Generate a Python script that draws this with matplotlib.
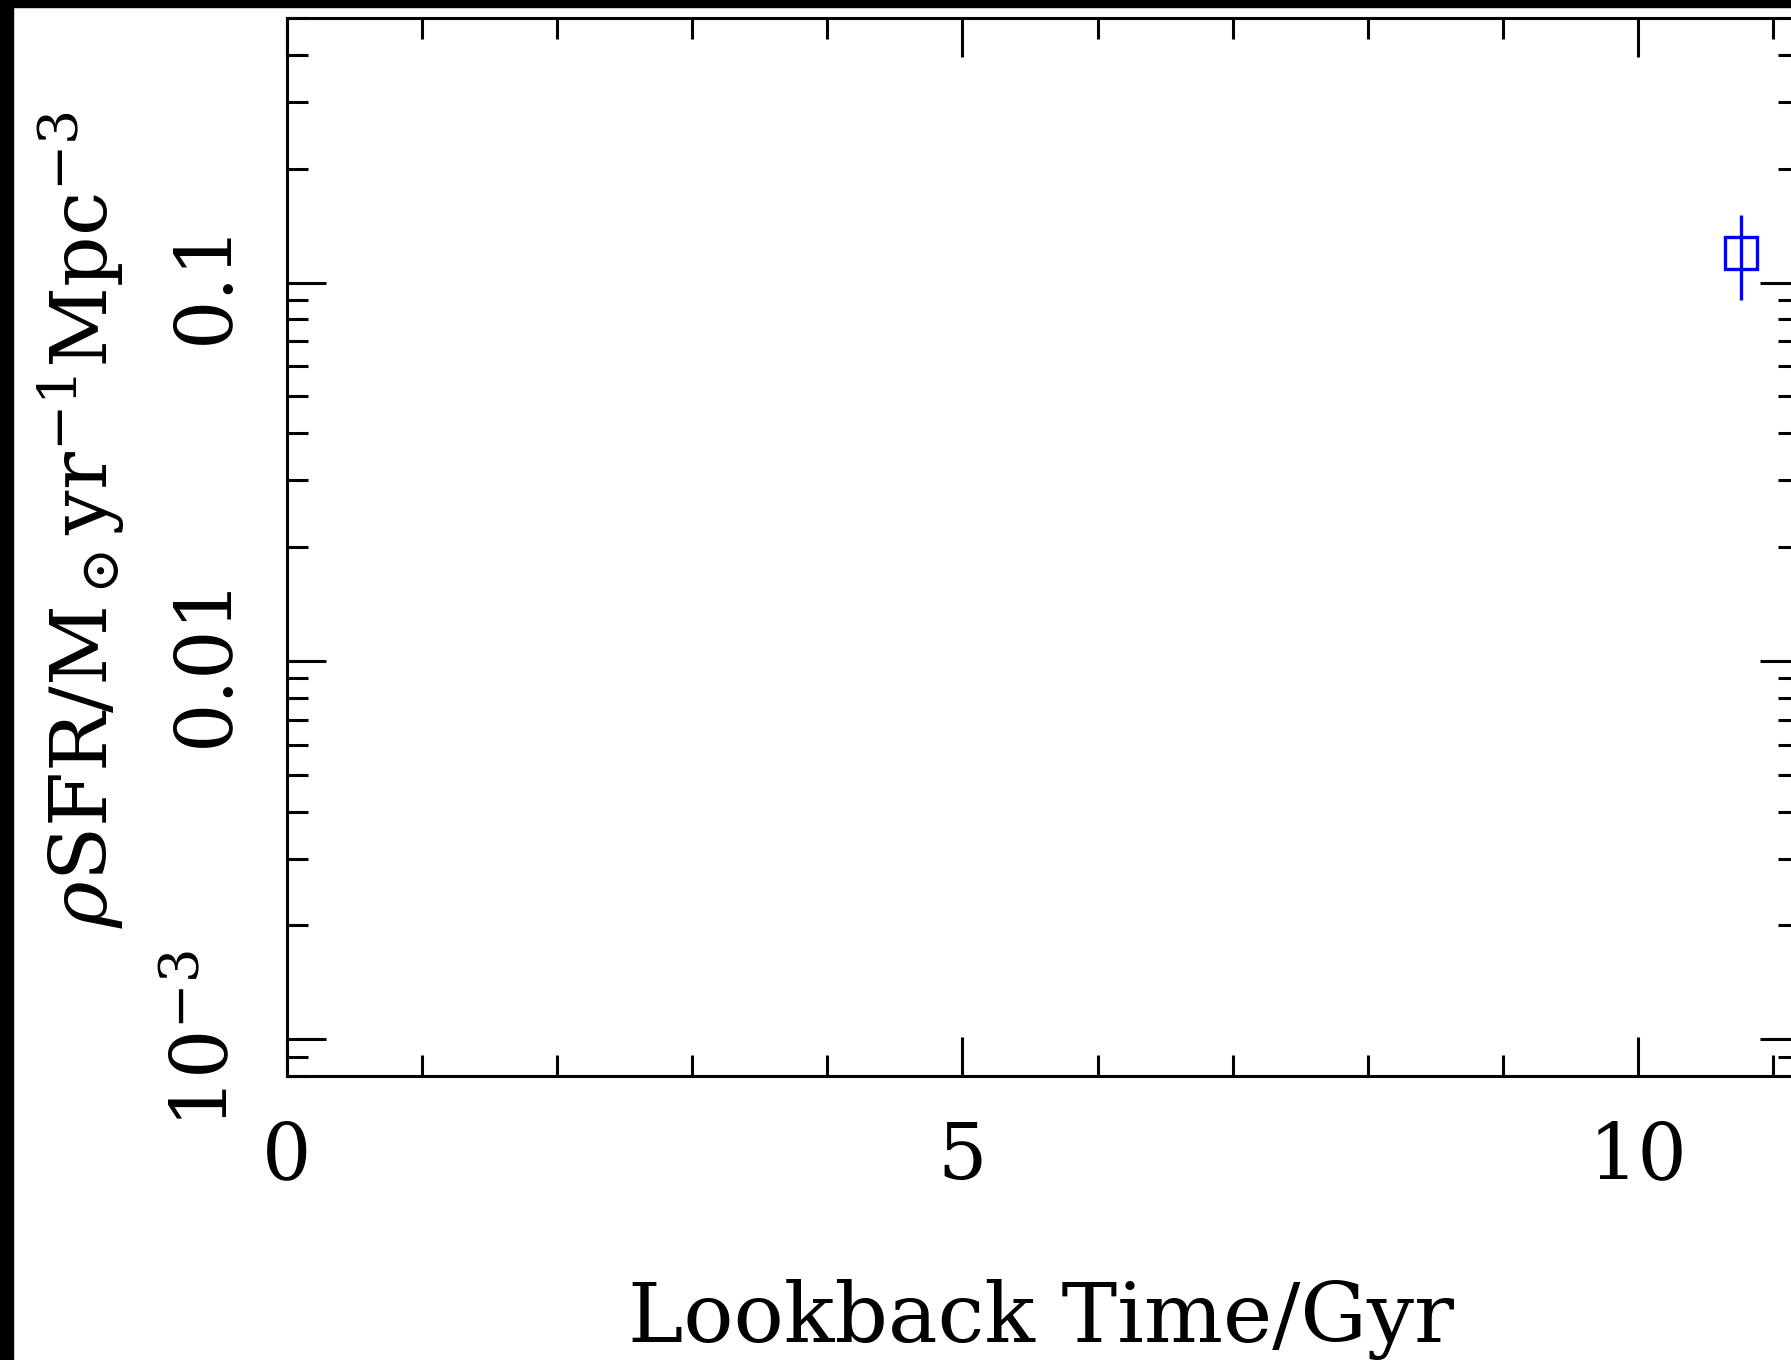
import numpy as np
import matplotlib
matplotlib.use('Agg')
from matplotlib import pyplot as plt
from matplotlib.ticker import FixedLocator, FixedFormatter, MultipleLocator, LogLocator
from matplotlib.patches import Rectangle

plt.rcParams['font.family'] = 'DejaVu Serif'
plt.rcParams['mathtext.fontset'] = 'dejavuserif'

# the single measurement
lookback = [10.76]
sfrd = [0.120]
sfrd_lo = [0.030]
sfrd_hi = [0.031]

ytick_vals = [1e-3, 1e-2, 1e-1]
ytick_labels = ['$10^{-3}$', '0.01', '0.1']
xtick_vals = [0, 5, 10]

W, H = 1791, 1360
fig = plt.figure(figsize=(W / 100, H / 100), dpi=100)
ax = fig.add_axes([287 / W, 1 - 1076 / H, (1799 - 287) / W, (1076 - 18) / H])

ax.errorbar(lookback, sfrd, yerr=[sfrd_lo, sfrd_hi], fmt='s', mfc='none', mec='blue',
            ms=23, mew=2.4, ecolor='blue', elinewidth=2.4, capsize=0, clip_on=False)

ax.set_yscale('log')
ax.set_xlim(0, (1799 - 287) / 135.1)
ax.set_ylim(8e-4, 0.5)

ax.xaxis.set_major_locator(FixedLocator(xtick_vals))
ax.xaxis.set_minor_locator(MultipleLocator(1))
ax.yaxis.set_major_locator(FixedLocator(ytick_vals))
ax.yaxis.set_major_formatter(FixedFormatter(ytick_labels))
ax.yaxis.set_minor_locator(LogLocator(base=10, subs=np.arange(2, 10)))
ax.yaxis.set_minor_formatter(FixedFormatter([]))

ax.tick_params(which='both', direction='in', top=True, right=True, width=2.2)
ax.tick_params(which='major', length=28)
ax.tick_params(which='minor', length=15)
ax.tick_params(axis='x', labelsize=56, pad=31)
ax.tick_params(axis='y', labelsize=56, pad=31, labelrotation=90)
for lab in ax.get_yticklabels():
    lab.set_va('center')
for s in ax.spines.values():
    s.set_linewidth(2.2)

fig.text(1041 / W, 1 - 1342 / H, 'Lookback Time/Gyr', fontsize=60, ha='center', va='baseline')
fig.text(107 / W, 1 - 928 / H, r'$\rho$SFR/M$_\odot$yr$^{-1}$Mpc$^{-3}$', fontsize=57,
         rotation=90, rotation_mode='anchor', ha='left', va='baseline')

# black frame strips on left and top
fig.patches.append(Rectangle((0, 0), 13 / W, 1, transform=fig.transFigure, color='black', zorder=10))
fig.patches.append(Rectangle((0, 1 - 7 / H), 1, 7 / H, transform=fig.transFigure, color='black', zorder=10))

fig.savefig('out.png', dpi=100)
